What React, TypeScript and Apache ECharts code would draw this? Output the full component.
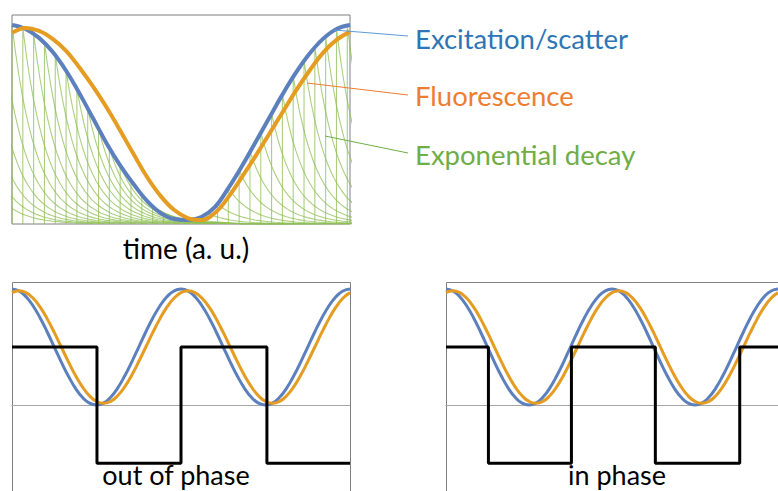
import React, { useEffect, useRef } from "react";
import * as echarts from "echarts";

// ---------- Top panel (time in arbitrary units 0..100) ----------
const topTime = [0, 4, 8, 12, 16, 20, 24, 28, 32, 36, 40, 44, 48, 52, 56, 60, 64, 68, 72, 76, 80, 84, 88, 92, 96, 100];
const excitation = [1.0, 0.98, 0.935, 0.865, 0.77, 0.655, 0.53, 0.405, 0.295, 0.2, 0.115, 0.055, 0.025, 0.02, 0.035, 0.085, 0.18, 0.29, 0.41, 0.53, 0.65, 0.76, 0.855, 0.93, 0.98, 1.0];
const fluorescence = [0.96, 0.985, 0.97, 0.93, 0.87, 0.785, 0.69, 0.585, 0.47, 0.35, 0.235, 0.14, 0.07, 0.03, 0.02, 0.055, 0.135, 0.235, 0.34, 0.45, 0.56, 0.67, 0.77, 0.86, 0.925, 0.965];

// excitation pulses: times and heights
const pulseTimes = [-16, -12.8, -9.6, -6.4, -3.2, 0, 3.2, 6.4, 9.6, 12.8, 16, 19.2, 22.4, 25.6, 28.8, 32, 35.2, 38.4, 41.6, 44.8, 48, 51.2, 54.4, 57.6, 60.8, 64, 67.2, 70.4, 73.6, 76.8, 80, 83.2, 86.4, 89.6, 92.8, 96, 99.2];
const pulseHeights = [0.77, 0.85, 0.91, 0.955, 0.985, 1.0, 0.985, 0.955, 0.91, 0.85, 0.77, 0.68, 0.58, 0.48, 0.38, 0.295, 0.22, 0.145, 0.09, 0.05, 0.025, 0.02, 0.025, 0.055, 0.1, 0.18, 0.27, 0.365, 0.46, 0.555, 0.65, 0.74, 0.82, 0.89, 0.94, 0.98, 0.997];
// fraction remaining after each time unit following a pulse
const decayStep = 1;
const decayProfile = [1, 0.867, 0.751, 0.651, 0.565, 0.49, 0.424, 0.368, 0.319, 0.276, 0.24, 0.208, 0.18, 0.156, 0.135, 0.117, 0.102, 0.088, 0.077, 0.066, 0.057, 0.05, 0.043, 0.037, 0.032, 0.028, 0.024, 0.021, 0.018, 0.016, 0.014, 0.012, 0.01, 0.009, 0.008, 0.007, 0.006, 0.005, 0.004, 0.004, 0.003];

// ---------- Bottom panels (phase in degrees 0..720) ----------
const phaseDeg = [0, 15, 30, 45, 60, 75, 90, 105, 120, 135, 150, 165, 180, 195, 210, 225, 240, 255, 270, 285, 300, 315, 330, 345, 360, 375, 390, 405, 420, 435, 450, 465, 480, 495, 510, 525, 540, 555, 570, 585, 600, 615, 630, 645, 660, 675, 690, 705, 720];
const excitationWave = [2, 1.966, 1.866, 1.707, 1.5, 1.259, 1, 0.741, 0.5, 0.293, 0.134, 0.034, 0, 0.034, 0.134, 0.293, 0.5, 0.741, 1, 1.259, 1.5, 1.707, 1.866, 1.966, 2, 1.966, 1.866, 1.707, 1.5, 1.259, 1, 0.741, 0.5, 0.293, 0.134, 0.034, 0, 0.034, 0.134, 0.293, 0.5, 0.741, 1, 1.259, 1.5, 1.707, 1.866, 1.966, 2];
const fluorescenceWave = [1.937, 1.97, 1.937, 1.84, 1.686, 1.485, 1.251, 1.0, 0.749, 0.515, 0.314, 0.16, 0.063, 0.03, 0.063, 0.16, 0.314, 0.515, 0.749, 1.0, 1.251, 1.485, 1.686, 1.84, 1.937, 1.97, 1.937, 1.84, 1.686, 1.485, 1.251, 1.0, 0.749, 0.515, 0.314, 0.16, 0.063, 0.03, 0.063, 0.16, 0.314, 0.515, 0.749, 1.0, 1.251, 1.485, 1.686, 1.84, 1.937];

const outOfPhaseX = [0, 181, 360, 543, 720];
const outOfPhaseY = [1, -1, 1, -1, -1];
const inPhaseX = [0, 92, 272, 454, 637, 720];
const inPhaseY = [1, -1, 1, -1, 1, 1];

// ---------- Texts ----------
const labels = ["Excitation/scatter", "Fluorescence", "Exponential decay"];
const labelColors = ["#2e75b6", "#ed7d31", "#70ad47"];
const axisTitle = "time (a. u.)";
const panelTitles = ["out of phase", "in phase"];

const BLUE = "#5b80bd";
const ORANGE = "#e59c22";
const GREEN = "#8fbf55";
const BORDER = "#7f7f7f";
const FONT = "Lato, 'Open Sans', sans-serif";

function zip(xs: number[], ys: number[]) {
  return xs.map((x, i) => [x, ys[i]]);
}

export default function App() {
  const ref = useRef<HTMLDivElement>(null);

  useEffect(() => {
    if (!ref.current) return;
    const chart = echarts.init(ref.current, null, { renderer: "svg" });

    const decaySeries: any[] = pulseTimes.map((t0, k) => {
      const a = pulseHeights[k];
      const data: number[][] = [[t0, 0]];
      decayProfile.forEach((f, j) => data.push([t0 + j * decayStep, a * f]));
      return {
        type: "line",
        xAxisIndex: 0,
        yAxisIndex: 0,
        data,
        showSymbol: false,
        symbol: "none",
        silent: true,
        clip: true,
        z: 1,
        lineStyle: { color: GREEN, width: 1.1, opacity: 0.75 },
      };
    });

    const hiddenAxis = {
      axisLine: { show: false },
      axisTick: { show: false },
      axisLabel: { show: false },
      splitLine: { show: false },
    };
    const zeroLine = { show: true, onZero: true, lineStyle: { color: "#a6a6a6", width: 1 } };

    const option: any = {
      animation: false,
      grid: [
        { left: 12, top: 15, width: 338, height: 209, show: true, borderColor: BORDER, borderWidth: 1, backgroundColor: "transparent" },
        { left: 12, top: 282, width: 338, bottom: 0, show: false },
        { left: 446, top: 282, width: 338, bottom: 0, show: false },
      ],
      xAxis: [
        { type: "value", gridIndex: 0, min: 0, max: 100, ...hiddenAxis },
        { type: "value", gridIndex: 1, min: 0, max: 720, ...hiddenAxis, axisLine: zeroLine },
        { type: "value", gridIndex: 2, min: 0, max: 720, ...hiddenAxis, axisLine: zeroLine },
      ],
      yAxis: [
        { type: "value", gridIndex: 0, min: 0, max: 1.05, ...hiddenAxis },
        { type: "value", gridIndex: 1, min: -1.48, max: 2.12, ...hiddenAxis },
        { type: "value", gridIndex: 2, min: -1.48, max: 2.12, ...hiddenAxis },
      ],
      series: [
        ...decaySeries,
        {
          name: labels[0], type: "line", xAxisIndex: 0, yAxisIndex: 0, data: zip(topTime, excitation),
          smooth: 0.4, showSymbol: false, symbol: "none", z: 3, lineStyle: { color: BLUE, width: 4 },
        },
        {
          name: labels[1], type: "line", xAxisIndex: 0, yAxisIndex: 0, data: zip(topTime, fluorescence),
          smooth: 0.4, showSymbol: false, symbol: "none", z: 4, lineStyle: { color: ORANGE, width: 4 },
        },
        // bottom left
        {
          type: "line", xAxisIndex: 1, yAxisIndex: 1, data: zip(phaseDeg, excitationWave),
          smooth: true, showSymbol: false, symbol: "none", z: 3, lineStyle: { color: BLUE, width: 3 },
        },
        {
          type: "line", xAxisIndex: 1, yAxisIndex: 1, data: zip(phaseDeg, fluorescenceWave),
          smooth: true, showSymbol: false, symbol: "none", z: 4, lineStyle: { color: ORANGE, width: 3 },
        },
        {
          type: "line", xAxisIndex: 1, yAxisIndex: 1, data: zip(outOfPhaseX, outOfPhaseY), step: "end",
          showSymbol: false, symbol: "none", z: 5, lineStyle: { color: "#000000", width: 3 },
        },
        // bottom right
        {
          type: "line", xAxisIndex: 2, yAxisIndex: 2, data: zip(phaseDeg, excitationWave),
          smooth: true, showSymbol: false, symbol: "none", z: 3, lineStyle: { color: BLUE, width: 3 },
        },
        {
          type: "line", xAxisIndex: 2, yAxisIndex: 2, data: zip(phaseDeg, fluorescenceWave),
          smooth: true, showSymbol: false, symbol: "none", z: 4, lineStyle: { color: ORANGE, width: 3 },
        },
        {
          type: "line", xAxisIndex: 2, yAxisIndex: 2, data: zip(inPhaseX, inPhaseY), step: "end",
          showSymbol: false, symbol: "none", z: 5, lineStyle: { color: "#000000", width: 3 },
        },
      ],
      graphic: [
        // frames of the two lower panels (open at the bottom edge of the page)
        { type: "polyline", shape: { points: [[12.5, 495], [12.5, 282.5], [350.5, 282.5], [350.5, 495]] }, style: { stroke: BORDER, lineWidth: 1, fill: "none" }, z: 0 },
        { type: "polyline", shape: { points: [[446.5, 495], [446.5, 282.5], [790, 282.5]] }, style: { stroke: BORDER, lineWidth: 1, fill: "none" }, z: 0 },
        // leader lines
        { type: "line", shape: { x1: 334, y1: 30, x2: 408, y2: 36 }, style: { stroke: "#5b9bd5", lineWidth: 1 }, z: 10 },
        { type: "line", shape: { x1: 307, y1: 83, x2: 408, y2: 95 }, style: { stroke: labelColors[1], lineWidth: 1 }, z: 10 },
        { type: "line", shape: { x1: 325, y1: 136, x2: 408, y2: 153 }, style: { stroke: labelColors[2], lineWidth: 1 }, z: 10 },
        { type: "text", x: 415, y: 38, style: { text: labels[0], fill: labelColors[0], fontSize: 27.5, fontFamily: FONT, align: "left", verticalAlign: "middle" }, z: 10 },
        { type: "text", x: 415, y: 95, style: { text: labels[1], fill: labelColors[1], fontSize: 27.5, fontFamily: FONT, align: "left", verticalAlign: "middle" }, z: 10 },
        { type: "text", x: 415, y: 154, style: { text: labels[2], fill: labelColors[2], fontSize: 27.5, fontFamily: FONT, align: "left", verticalAlign: "middle" }, z: 10 },
        { type: "text", x: 186, y: 248, style: { text: axisTitle, fill: "#000000", fontSize: 28, fontFamily: FONT, align: "center", verticalAlign: "middle" }, z: 10 },
        { type: "text", x: 176, y: 488, style: { text: panelTitles[0], fill: "#000000", fontSize: 27, fontFamily: FONT, align: "center", verticalAlign: "bottom" }, z: 10 },
        { type: "text", x: 617, y: 488, style: { text: panelTitles[1], fill: "#000000", fontSize: 27, fontFamily: FONT, align: "center", verticalAlign: "bottom" }, z: 10 },
      ],
    };

    chart.setOption(option);
    return () => chart.dispose();
  }, []);

  return (
    <div
      ref={ref}
      style={{ position: "fixed", left: 0, top: 0, width: 778, height: 491, background: "#ffffff" }}
    />
  );
}
